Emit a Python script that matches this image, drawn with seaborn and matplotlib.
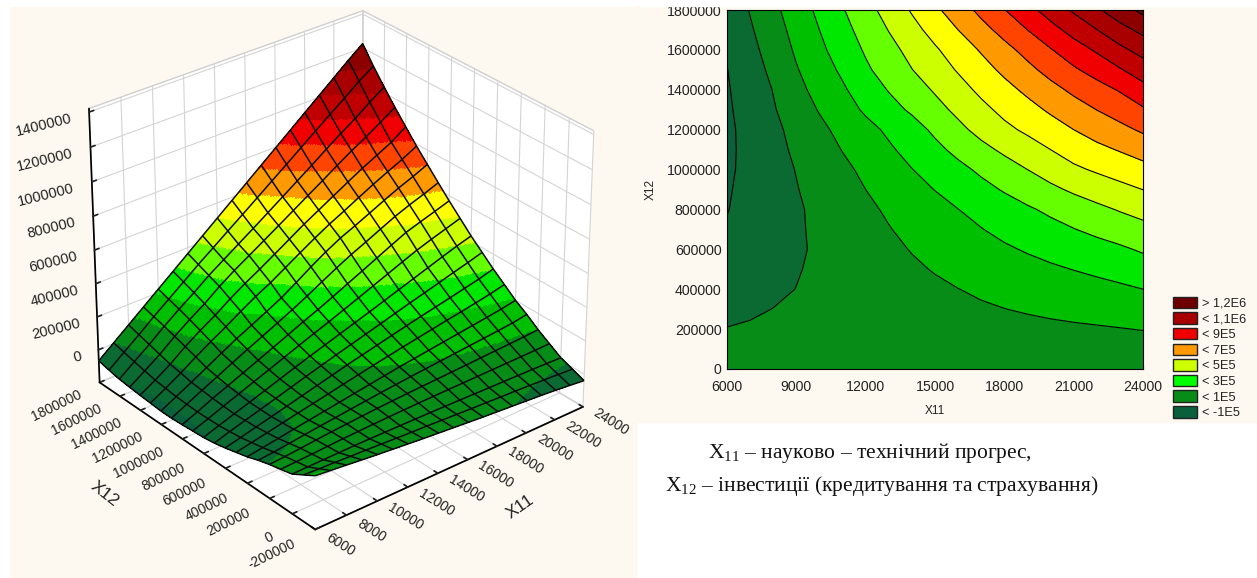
import numpy as np
import seaborn as sns
import matplotlib
matplotlib.use('Agg')
import matplotlib.pyplot as plt
from matplotlib.colors import BoundaryNorm, ListedColormap
from matplotlib.patches import Patch, Rectangle

X11_VALUES = np.arange(6000, 24001, 1000)
X12_VALUES = np.arange(-200000, 1800001, 100000)

# response surface, thousands, one row per X12 value, one column per X11 value
Z_THOUSANDS = np.array([
    [115, 105, 95, 85, 75, 66, 57, 48, 40, 32, 24, 16, 9, 2, -5, -12, -20, -30, -40],
    [75, 70, 66, 61, 57, 52, 47, 42, 38, 33, 28, 23, 19, 14, 10, 5, 0, -6, -12],
    [35, 36, 37, 38, 39, 39, 38, 37, 36, 35, 33, 31, 29, 27, 25, 23, 21, 18, 15],
    [18, 22, 26, 31, 36, 39, 42, 45, 47, 49, 50, 51, 52, 53, 54, 55, 56, 57, 59],
    [2, 8, 16, 25, 33, 40, 47, 53, 58, 63, 67, 71, 75, 79, 84, 88, 92, 97, 103],
    [-18, -10, 1, 13, 24, 34, 45, 55, 65, 74, 83, 91, 99, 107, 115, 123, 131, 140, 155],
    [-42, -28, -14, 1, 15, 29, 43, 57, 71, 85, 99, 111, 123, 135, 147, 159, 171, 184, 200],
    [-60, -42, -24, -5, 14, 32, 50, 69, 87, 105, 122, 139, 155, 171, 187, 202, 218, 235, 256],
    [-78, -56, -33, -11, 12, 35, 58, 81, 104, 125, 146, 167, 188, 208, 227, 246, 266, 286, 311],
    [-93, -64, -37, -11, 16, 43, 70, 96, 122, 147, 172, 197, 223, 248, 272, 297, 322, 346, 372],
    [-103, -72, -41, -11, 20, 51, 82, 112, 141, 170, 199, 228, 258, 288, 318, 348, 378, 407, 433],
    [-108, -74, -38, -4, 31, 65, 100, 135, 169, 202, 237, 272, 308, 344, 380, 415, 445, 473, 501],
    [-114, -76, -34, 3, 42, 80, 119, 158, 198, 235, 275, 317, 358, 400, 442, 483, 512, 540, 569],
    [-118, -73, -28, 15, 60, 103, 145, 187, 230, 276, 325, 373, 418, 458, 500, 541, 576, 607, 641],
    [-118, -70, -22, 28, 78, 127, 171, 216, 262, 318, 376, 430, 478, 517, 558, 600, 640, 675, 714],
    [-113, -62, -8, 51, 106, 158, 214, 267, 314, 368, 422, 475, 524, 568, 614, 659, 701, 741, 788],
    [-108, -55, 3, 72, 132, 187, 249, 305, 356, 410, 465, 520, 570, 620, 670, 719, 763, 808, 868],
    [-102, -41, 21, 93, 157, 216, 284, 344, 398, 453, 508, 564, 620, 675, 732, 787, 837, 892, 949],
    [-95, -27, 40, 113, 180, 243, 311, 370, 429, 488, 548, 609, 670, 731, 794, 855, 912, 977, 1035],
    [-82, -11, 58, 131, 200, 268, 338, 403, 469, 534, 600, 667, 733, 800, 867, 934, 998, 1067, 1125],
    [-67, 5, 77, 149, 221, 293, 365, 437, 509, 581, 653, 725, 797, 869, 941, 1013, 1085, 1157, 1225],
]) * 1000.0

LEVELS = [-1e5, 0, 1e5, 2e5, 3e5, 4e5, 5e5, 6e5, 7e5, 8e5, 9e5, 1e6, 1.1e6, 1.2e6]
BAND_COLORS = ['#0a5f3c', '#0a6a32', '#078c18', '#00bf00', '#00e800', '#66ff00', '#ccff00', '#ffff00',
    '#ff9900', '#ff4400', '#f00000', '#c00000', '#a80000', '#8c0000', '#6c0000']

LEGEND_LABELS = ['> 1,2E6', '< 1,1E6', '< 9E5', '< 7E5', '< 5E5', '< 3E5', '< 1E5', '< -1E5']
LEGEND_COLORS = ['#6c0000', '#a80000', '#f00000', '#ff9900', '#ccff00', '#00ff00', '#078c18', '#0a5f3c']

X_TICKS_3D = [6000, 8000, 10000, 12000, 14000, 16000, 18000, 20000, 22000, 24000]
Y_TICKS_3D = [-200000, 0, 200000, 400000, 600000, 800000, 1000000, 1200000, 1400000, 1600000, 1800000]
Z_TICKS_3D = [0, 200000, 400000, 600000, 800000, 1000000, 1200000, 1400000]
X_TICKS_2D = [6000, 9000, 12000, 15000, 18000, 21000, 24000]
Y_TICKS_2D = [0, 200000, 400000, 600000, 800000, 1000000, 1200000, 1400000, 1600000, 1800000]

CAPTION_1 = r'$\mathregular{X_{11}}$ – науково – технічний прогрес,'
CAPTION_2 = r'$\mathregular{X_{12}}$ – інвестиції (кредитування та страхування)'

WIDTH, HEIGHT = 1257, 578
CREAM = '#fdf9f0'
TEXT_COLOR = '#222222'

sns.set_theme(style='white')
plt.rcParams['font.family'] = ['Liberation Sans', 'DejaVu Sans']
plt.rcParams['mathtext.fontset'] = 'custom'
plt.rcParams['mathtext.rm'] = 'Liberation Serif'

palette = sns.color_palette(BAND_COLORS)
band_cmap = ListedColormap(palette)
band_norm = BoundaryNorm([-1e9] + LEVELS + [1e9], band_cmap.N)

def px_box(left, top, right, bottom):
    return [left / WIDTH, 1 - bottom / HEIGHT, (right - left) / WIDTH, (bottom - top) / HEIGHT]

def subdivide(values, steps=10):
    # split each mesh cell so that the colour bands can cross it
    rows, cols = values.shape
    fine_r = np.linspace(0, rows - 1, (rows - 1) * steps + 1)
    fine_c = np.linspace(0, cols - 1, (cols - 1) * steps + 1)
    by_col = np.array([np.interp(fine_c, np.arange(cols), row) for row in values])
    return np.array([np.interp(fine_r, np.arange(rows), col) for col in by_col.T]).T

fig = plt.figure(figsize=(WIDTH / 100, HEIGHT / 100), dpi=100, facecolor='white')
fig.add_artist(Rectangle((10 / WIDTH, 0), 626 / WIDTH, 571 / HEIGHT, transform=fig.transFigure, color=CREAM, zorder=-5))
fig.add_artist(Rectangle((636 / WIDTH, 1 - 422 / HEIGHT), 621 / WIDTH, 416 / HEIGHT, transform=fig.transFigure, color=CREAM, zorder=-5))
# the scan cuts off the top of the 1800000 label
fig.add_artist(Rectangle((640 / WIDTH, 1 - 5.5 / HEIGHT), 617 / WIDTH, 5.5 / HEIGHT, transform=fig.transFigure, color='white', zorder=10))

# ---------- 3D surface ----------
ax3d = fig.add_axes(px_box(-29, -61, 691, 599), projection='3d', computed_zorder=False)
ax3d.patch.set_alpha(0)
ax3d.set_proj_type('persp', focal_length=1.0)
ax3d.view_init(elev=29.5, azim=-129.5)
ax3d.set_box_aspect((1, 1, 0.9), zoom=0.865)

grid_x, grid_y = np.meshgrid(X11_VALUES, X12_VALUES)
fine_x, fine_y, fine_z = subdivide(grid_x.astype(float)), subdivide(grid_y.astype(float)), subdivide(Z_THOUSANDS)
fine_colors = band_cmap(band_norm(fine_z[:-1, :-1]))

ax3d.plot_surface(fine_x, fine_y, fine_z, facecolors=fine_colors, rstride=1, cstride=1, shade=False,
    linewidth=0, antialiased=False, zorder=1)
ax3d.plot_wireframe(grid_x, grid_y, Z_THOUSANDS, rstride=1, cstride=1, color='#0c0c0c', linewidth=1.1, zorder=2)

ax3d.set_xlim(6000, 24000)
ax3d.set_ylim(-200000, 1800000)
ax3d.set_zlim(-200000, 1420000)
ax3d.set_xticks(X_TICKS_3D, labels=[str(v) for v in X_TICKS_3D])
ax3d.set_yticks(Y_TICKS_3D, labels=[str(v) for v in Y_TICKS_3D])
ax3d.set_zticks(Z_TICKS_3D, labels=[str(v) for v in Z_TICKS_3D])

for axis in (ax3d.xaxis, ax3d.yaxis, ax3d.zaxis):
    axis.set_pane_color((1, 1, 1, 1))
    axis.pane.set_edgecolor('#cfcfcf')
    axis.line.set_color('black')
    axis._axinfo['grid'].update(color='#d4d4d4', linewidth=0.8)
    axis._axinfo['tick'].update(inward_factor=0.0, outward_factor=0.2)

ax3d.tick_params(axis='x', labelsize=10, labelrotation=-32, pad=1, colors=TEXT_COLOR)
ax3d.tick_params(axis='y', labelsize=10, labelrotation=26, pad=7, colors=TEXT_COLOR)
ax3d.tick_params(axis='z', labelsize=10.5, labelrotation=14, pad=0, colors=TEXT_COLOR)
for label in ax3d.get_xticklabels():
    label.set(ha='left', va='center')
for label in ax3d.get_yticklabels():
    label.set(ha='right', va='center')
for label in ax3d.get_zticklabels():
    label.set(ha='right')

fig.text(520 / WIDTH, 1 - 507 / HEIGHT, 'X11', fontsize=12.5, rotation=35, ha='center', va='center', color=TEXT_COLOR)
fig.text(105 / WIDTH, 1 - 494 / HEIGHT, 'X12', fontsize=12.5, rotation=-38, ha='center', va='center', color=TEXT_COLOR)

# ---------- contour map ----------
ax2d = fig.add_axes(px_box(727, 10, 1143, 369))
mask = X12_VALUES >= 0
ax2d.contourf(X11_VALUES, X12_VALUES[mask], Z_THOUSANDS[mask], levels=LEVELS, colors=BAND_COLORS[1:-1], extend='neither')
ax2d.contourf(X11_VALUES, X12_VALUES[mask], Z_THOUSANDS[mask], levels=[-1e9, LEVELS[0]], colors=BAND_COLORS[:1])
ax2d.contourf(X11_VALUES, X12_VALUES[mask], Z_THOUSANDS[mask], levels=[LEVELS[-1], 1e9], colors=BAND_COLORS[-1:])
ax2d.contour(X11_VALUES, X12_VALUES[mask], Z_THOUSANDS[mask], levels=LEVELS, colors='black', linewidths=0.8, linestyles='solid')
ax2d.set_xlim(6000, 24000)
ax2d.set_ylim(0, 1800000)
ax2d.set_xticks(X_TICKS_2D, labels=[str(v) for v in X_TICKS_2D])
ax2d.set_yticks(Y_TICKS_2D, labels=[str(v) for v in Y_TICKS_2D])
ax2d.set_xticks(np.arange(6000, 24001, 1000), minor=True)
ax2d.set_yticks(np.arange(0, 1800001, 100000), minor=True)
ax2d.tick_params(axis='both', which='major', direction='in', length=3, width=0.8, labelsize=10.2, colors=TEXT_COLOR, pad=4, left=True, bottom=True)
ax2d.tick_params(axis='x', which='major', pad=8)
ax2d.tick_params(axis='both', which='minor', direction='in', length=2, width=0.6, left=True, bottom=True)
ax2d.set_xlabel('X11', fontsize=8.5, color=TEXT_COLOR, labelpad=8)
ax2d.set_ylabel('X12', fontsize=8.5, color=TEXT_COLOR, labelpad=7)
for spine in ax2d.spines.values():
    spine.set_visible(True)
    spine.set_color('black')
    spine.set_linewidth(0.8)

handles = [Patch(facecolor=c, edgecolor='#222222', linewidth=1.0) for c in LEGEND_COLORS]
fig.legend(handles, LEGEND_LABELS, loc='upper left', bbox_to_anchor=(1170 / WIDTH, 1 - 294 / HEIGHT), frameon=False,
    fontsize=9.2, handlelength=1.95, handleheight=1.0, handletextpad=0.35, labelspacing=0.2, borderpad=0.2, borderaxespad=0, labelcolor=TEXT_COLOR)

# ---------- caption ----------
fig.text(708 / WIDTH, 1 - 458 / HEIGHT, CAPTION_1, fontsize=15.5, family='Liberation Serif', color='#111111')
fig.text(665 / WIDTH, 1 - 491 / HEIGHT, CAPTION_2, fontsize=15.5, family='Liberation Serif', color='#111111')

fig.savefig('out.png', dpi=100)
